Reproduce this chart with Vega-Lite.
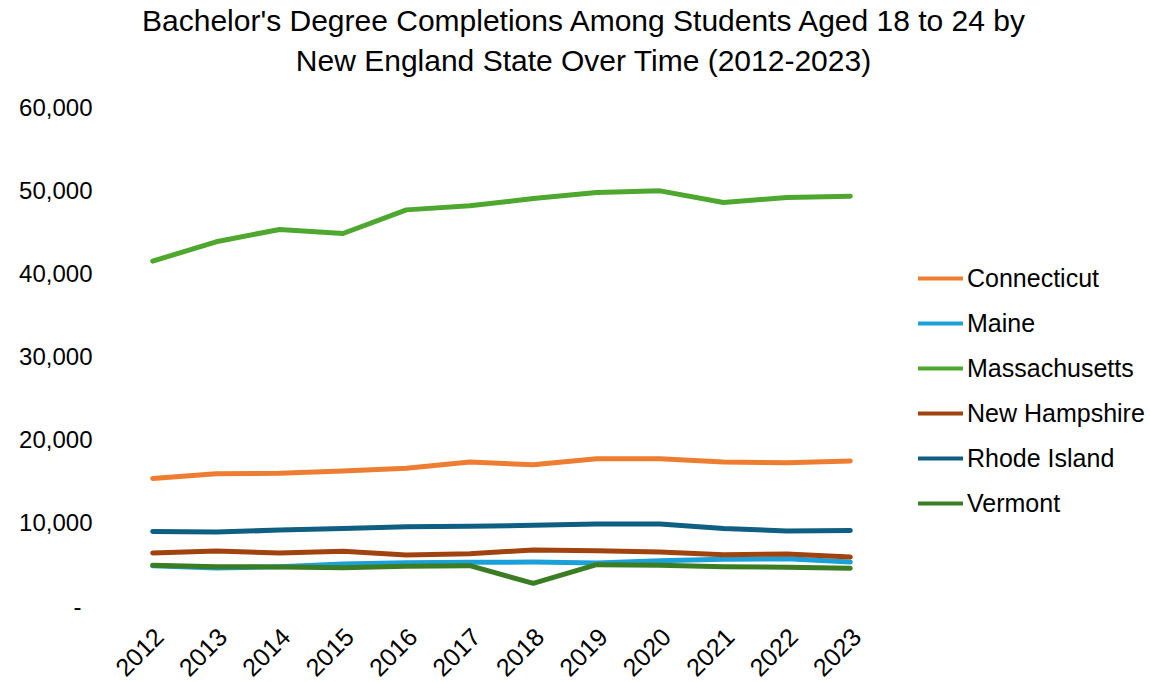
{
  "$schema": "https://vega.github.io/schema/vega-lite/v6.json",
  "width": 761,
  "height": 499,
  "autosize": {"type": "none"},
  "padding": {"left": 121, "top": 108, "right": 268, "bottom": 75},
  "background": "white",
  "config": {
    "view": {"stroke": null},
    "font": "Liberation Sans"
  },
  "title": {
    "text": ["Bachelor's Degree Completions Among Students Aged 18 to 24 by", "New England State Over Time (2012-2023)"],
    "font": "Liberation Sans",
    "fontSize": 30,
    "fontWeight": "normal",
    "color": "#000000",
    "lineHeight": 40,
    "anchor": "middle",
    "frame": "group",
    "dx": 82,
    "offset": 19
  },
  "data": {
    "values": [
      {"year": "2012", "state": "Connecticut", "value": 15460},
      {"year": "2013", "state": "Connecticut", "value": 16020},
      {"year": "2014", "state": "Connecticut", "value": 16070},
      {"year": "2015", "state": "Connecticut", "value": 16350},
      {"year": "2016", "state": "Connecticut", "value": 16670},
      {"year": "2017", "state": "Connecticut", "value": 17430},
      {"year": "2018", "state": "Connecticut", "value": 17110},
      {"year": "2019", "state": "Connecticut", "value": 17830},
      {"year": "2020", "state": "Connecticut", "value": 17830},
      {"year": "2021", "state": "Connecticut", "value": 17430},
      {"year": "2022", "state": "Connecticut", "value": 17350},
      {"year": "2023", "state": "Connecticut", "value": 17550},
      {"year": "2012", "state": "Maine", "value": 4970},
      {"year": "2013", "state": "Maine", "value": 4690},
      {"year": "2014", "state": "Maine", "value": 4850},
      {"year": "2015", "state": "Maine", "value": 5170},
      {"year": "2016", "state": "Maine", "value": 5330},
      {"year": "2017", "state": "Maine", "value": 5370},
      {"year": "2018", "state": "Maine", "value": 5410},
      {"year": "2019", "state": "Maine", "value": 5290},
      {"year": "2020", "state": "Maine", "value": 5570},
      {"year": "2021", "state": "Maine", "value": 5730},
      {"year": "2022", "state": "Maine", "value": 5810},
      {"year": "2023", "state": "Maine", "value": 5410},
      {"year": "2012", "state": "Massachusetts", "value": 41590},
      {"year": "2013", "state": "Massachusetts", "value": 43910},
      {"year": "2014", "state": "Massachusetts", "value": 45400},
      {"year": "2015", "state": "Massachusetts", "value": 44910},
      {"year": "2016", "state": "Massachusetts", "value": 47750},
      {"year": "2017", "state": "Massachusetts", "value": 48240},
      {"year": "2018", "state": "Massachusetts", "value": 49120},
      {"year": "2019", "state": "Massachusetts", "value": 49840},
      {"year": "2020", "state": "Massachusetts", "value": 50040},
      {"year": "2021", "state": "Massachusetts", "value": 48640},
      {"year": "2022", "state": "Massachusetts", "value": 49240},
      {"year": "2023", "state": "Massachusetts", "value": 49400},
      {"year": "2012", "state": "New Hampshire", "value": 6490},
      {"year": "2013", "state": "New Hampshire", "value": 6730},
      {"year": "2014", "state": "New Hampshire", "value": 6490},
      {"year": "2015", "state": "New Hampshire", "value": 6690},
      {"year": "2016", "state": "New Hampshire", "value": 6250},
      {"year": "2017", "state": "New Hampshire", "value": 6410},
      {"year": "2018", "state": "New Hampshire", "value": 6850},
      {"year": "2019", "state": "New Hampshire", "value": 6770},
      {"year": "2020", "state": "New Hampshire", "value": 6610},
      {"year": "2021", "state": "New Hampshire", "value": 6290},
      {"year": "2022", "state": "New Hampshire", "value": 6370},
      {"year": "2023", "state": "New Hampshire", "value": 6010},
      {"year": "2012", "state": "Rhode Island", "value": 9090},
      {"year": "2013", "state": "Rhode Island", "value": 9010},
      {"year": "2014", "state": "Rhode Island", "value": 9250},
      {"year": "2015", "state": "Rhode Island", "value": 9450},
      {"year": "2016", "state": "Rhode Island", "value": 9650},
      {"year": "2017", "state": "Rhode Island", "value": 9700},
      {"year": "2018", "state": "Rhode Island", "value": 9820},
      {"year": "2019", "state": "Rhode Island", "value": 9980},
      {"year": "2020", "state": "Rhode Island", "value": 9980},
      {"year": "2021", "state": "Rhode Island", "value": 9450},
      {"year": "2022", "state": "Rhode Island", "value": 9130},
      {"year": "2023", "state": "Rhode Island", "value": 9210},
      {"year": "2012", "state": "Vermont", "value": 5010},
      {"year": "2013", "state": "Vermont", "value": 4850},
      {"year": "2014", "state": "Vermont", "value": 4810},
      {"year": "2015", "state": "Vermont", "value": 4730},
      {"year": "2016", "state": "Vermont", "value": 4890},
      {"year": "2017", "state": "Vermont", "value": 4970},
      {"year": "2018", "state": "Vermont", "value": 2850},
      {"year": "2019", "state": "Vermont", "value": 5090},
      {"year": "2020", "state": "Vermont", "value": 5010},
      {"year": "2021", "state": "Vermont", "value": 4850},
      {"year": "2022", "state": "Vermont", "value": 4770},
      {"year": "2023", "state": "Vermont", "value": 4650}
    ]
  },
  "mark": {"type": "line", "strokeWidth": 5, "strokeCap": "round", "strokeJoin": "round"},
  "encoding": {
    "x": {
      "field": "year",
      "type": "ordinal",
      "scale": {"type": "point", "padding": 0.5},
      "axis": {
        "title": null,
        "domain": false,
        "ticks": false,
        "grid": false,
        "labelAngle": -45,
        "labelAlign": "right",
        "labelBaseline": "top",
        "labelOffset": -2,
        "labelPadding": 17,
        "labelFontSize": 25,
        "labelColor": "#000000",
        "labelFont": "Liberation Sans"
      }
    },
    "y": {
      "field": "value",
      "type": "quantitative",
      "scale": {"domain": [0, 60000], "nice": false},
      "axis": {
        "title": null,
        "domain": false,
        "ticks": false,
        "grid": false,
        "values": [0, 10000, 20000, 30000, 40000, 50000, 60000],
        "labelExpr": "datum.value == 0 ? '-' : format(datum.value, ',')",
        "labelPadding": {"condition": {"test": "datum.value == 0", "value": 40}, "value": 29},
        "labelFontSize": 24,
        "labelColor": "#000000",
        "labelFont": "Liberation Sans"
      }
    },
    "color": {
      "field": "state",
      "type": "nominal",
      "scale": {
        "domain": ["Connecticut", "Maine", "Massachusetts", "New Hampshire", "Rhode Island", "Vermont"],
        "range": ["#ED7D31", "#1BA1D9", "#4EA72E", "#A0430F", "#0E5F82", "#3B7D23"]
      },
      "legend": {
        "title": null,
        "orient": "none",
        "legendX": 795,
        "legendY": 146,
        "symbolType": "stroke",
        "symbolSize": 2025,
        "symbolStrokeWidth": 4,
        "labelOffset": 2,
        "rowPadding": 7,
        "labelFontSize": 25,
        "labelColor": "#000000",
        "labelFont": "Liberation Sans",
        "labelLimit": 300
      }
    }
  }
}
